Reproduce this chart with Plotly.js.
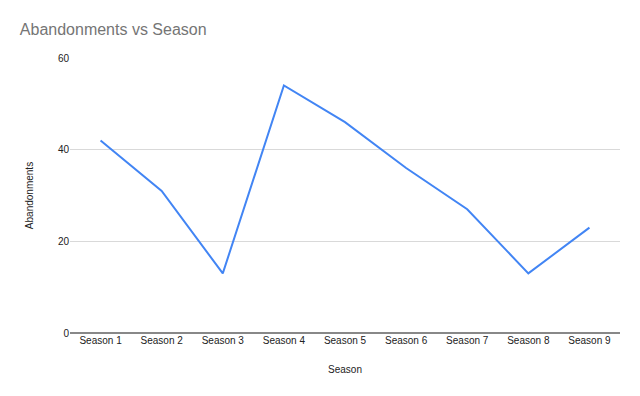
<!DOCTYPE html>
<html><head><meta charset="utf-8">
<script src="https://cdn.plot.ly/plotly-3.0.1.min.js"></script>
<style>html,body{margin:0;padding:0;background:#fff}#chart{width:640px;height:396px}</style>
</head><body><div id="chart"></div>
<script>
const seasons = ["Season 1","Season 2","Season 3","Season 4","Season 5","Season 6","Season 7","Season 8","Season 9"];
const abandonments = [42,31,13,54,46,36,27,13,23];
const yTicks = [0,20,40,60];

const F = "Arial, 'Liberation Sans', sans-serif";
Plotly.newPlot("chart", [{
  x: seasons, y: abandonments, type: "scatter", mode: "lines",
  line: {color: "#4285f4", width: 2}, hoverinfo: "x+y"
}], {
  width: 640, height: 396,
  margin: {l: 70, r: 20, t: 58, b: 63},
  paper_bgcolor: "#fff", plot_bgcolor: "#fff",
  font: {family: F, size: 10, color: "#222"},
  title: {text: "Abandonments vs Season", x: 0.031, xref: "container", xanchor: "left", y: 0.925, yref: "container", yanchor: "middle",
          font: {family: F, size: 16, color: "#757575"}},
  xaxis: {type: "category", range: [-0.5, 8.5], showgrid: false, zeroline: false, showline: false, ticks: "",
          tickfont: {family: F, size: 10, color: "#222"},
          title: {text: "Season", font: {family: F, size: 10, color: "#222"}, standoff: 20}},
  yaxis: {range: [0, 60], tickvals: yTicks, ticktext: yTicks.map(String), showgrid: true, gridcolor: "#d9d9d9", gridwidth: 1,
          zeroline: true, zerolinecolor: "#888", zerolinewidth: 2, showline: false, ticks: "", ticklen: 0,
          tickfont: {family: F, size: 10, color: "#222"},
          title: {text: "Abandonments", font: {family: F, size: 10, color: "#222"}, standoff: 22}},
  showlegend: false
}, {displayModeBar: false, staticPlot: true});
</script></body></html>
